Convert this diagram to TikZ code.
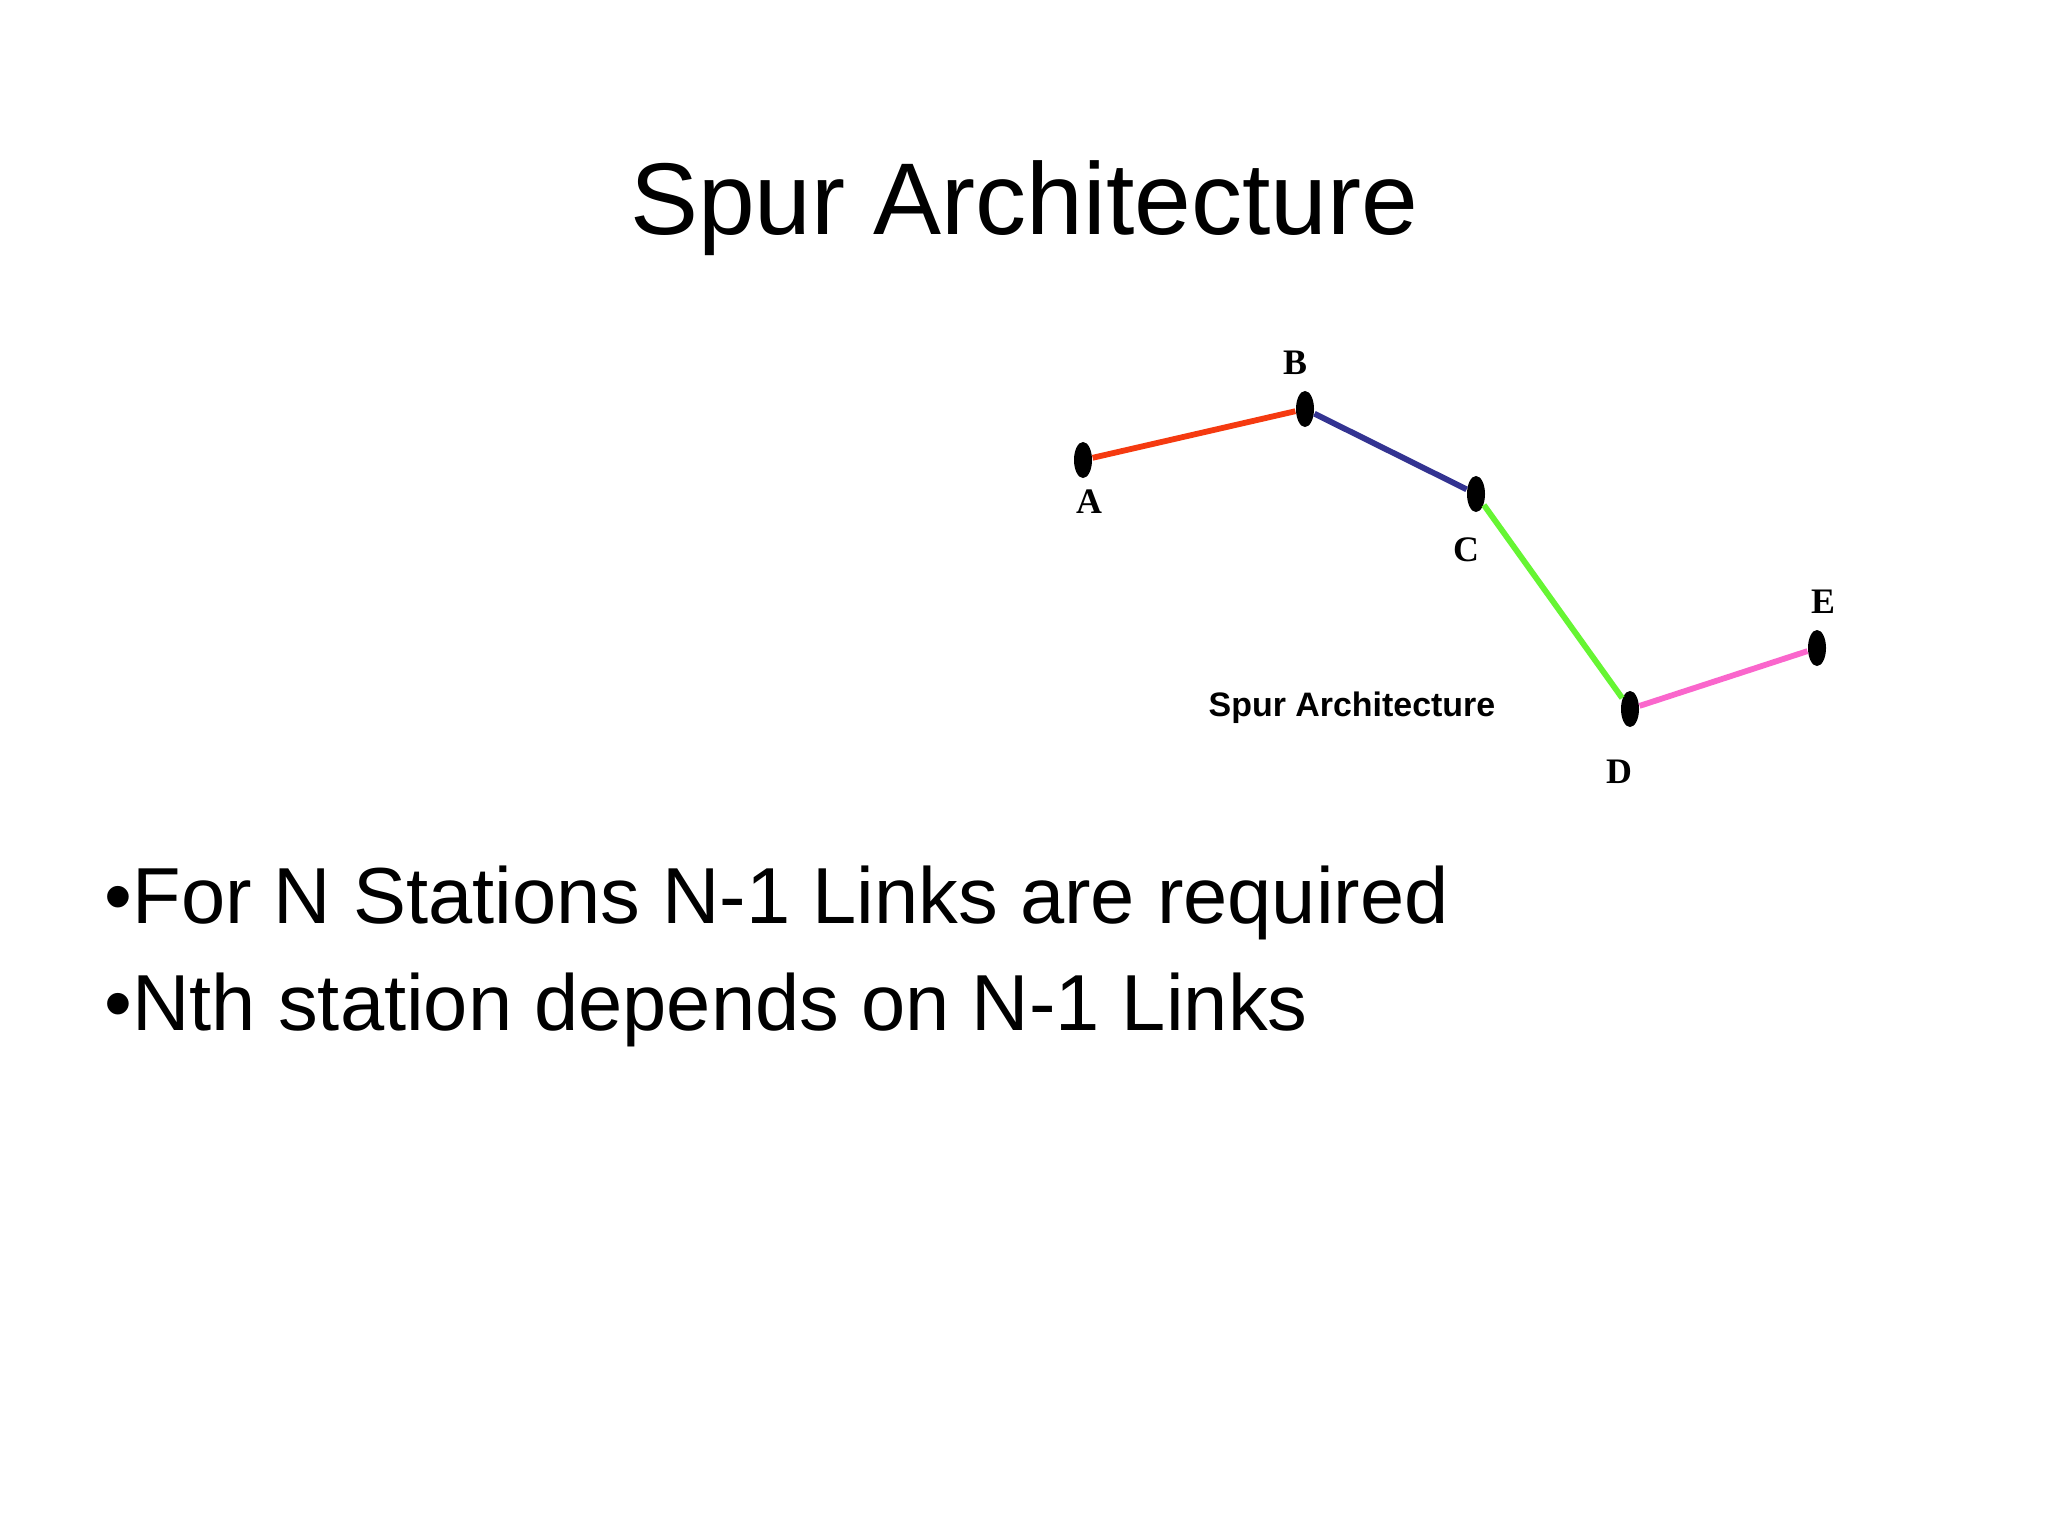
\documentclass[tikz,border=0pt]{standalone}
\usepackage{fontspec}
\setmainfont{Liberation Sans}
\newfontfamily\stationfont{Liberation Serif}
\usetikzlibrary{shapes.geometric}

\definecolor{linkred}{RGB}{245,58,16}
\definecolor{linkblue}{RGB}{51,51,145}
\definecolor{linkgreen}{RGB}{102,245,51}
\definecolor{linkpink}{RGB}{250,102,204}

\tikzset{
  station/.style={ellipse, fill=black, inner sep=0pt, minimum width=0.18cm, minimum height=0.36cm},
  stationlabel/.style={inner sep=0pt, font=\stationfont\bfseries\fontsize{10.2}{12}\selectfont},
  link/.style={line width=1.65pt}
}

\begin{document}
\begin{tikzpicture}[x=0.01cm, y=-0.01cm]
    \useasboundingbox[fill=white] (0,0) rectangle (2048,1536);

    % TITLE
    \node[anchor=base, inner sep=0pt, font=\fontsize{29}{34}\selectfont] (title) at (1024,234) {Spur Architecture};

    % STATIONS
    \node[station] (A) at (1083,460) {};
    \node[station] (B) at (1305,409) {};
    \node[station] (C) at (1476,494) {};
    \node[station] (D) at (1630,709) {};
    \node[station] (E) at (1817,648) {};

    % STATION LABELS
    \node[stationlabel] (labA) at (1089,502) {A};
    \node[stationlabel] (labB) at (1295,363) {B};
    \node[stationlabel] (labC) at (1466,550) {C};
    \node[stationlabel] (labD) at (1619,772) {D};
    \node[stationlabel] (labE) at (1823,602) {E};

    % LINKS (N-1 of them)
    \draw[link, linkred] (A) -- (B);
    \draw[link, linkblue] (B) -- (C);
    \draw[link, linkgreen] (C) -- (D);
    \draw[link, linkpink] (D) -- (E);

    % CAPTION
    \node[anchor=base, inner sep=0pt, font=\bfseries\fontsize{9.65}{12}\selectfont] (caption) at (1352,716) {Spur Architecture};

    % BULLETS
    \node[anchor=base west, inner sep=0pt, font=\fontsize{22.6}{27}\selectfont] (bulletone) at (104,923) {•For N Stations N-1 Links are required};
    \node[anchor=base west, inner sep=0pt, font=\fontsize{22.6}{27}\selectfont] (bullettwo) at (104,1030) {•Nth station depends on N-1 Links};
\end{tikzpicture}
\end{document}
